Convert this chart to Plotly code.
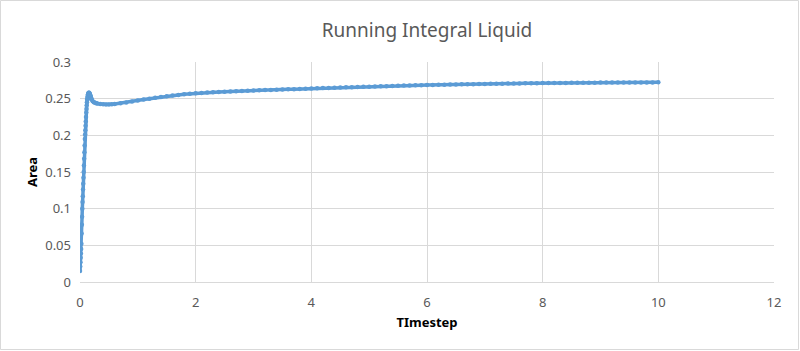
import plotly.graph_objects as go

# Timestep values (x) and running integral area (y)
t_rise = [0, .004, .008, .012, .016, .020, .024, .028, .032, .036, .040, .044, .048, .052, .056,
          .060, .064, .068, .072, .076, .080, .084, .088, .092, .096, .100, .104, .108, .112, .116,
          .120, .124, .128, .132, .136, .140, .144, .148, .152, .156, .160, .164, .168, .172, .176,
          .180, .184, .188, .192, .196, .200]
a_rise = [0.015, 0.021, 0.027, 0.033, 0.039, 0.045, 0.052, 0.066, 0.078, 0.089, 0.100, 0.109, 0.117,
          0.126, 0.134, 0.142, 0.150, 0.159, 0.168, 0.177, 0.186, 0.195, 0.201, 0.207, 0.213, 0.219,
          0.225, 0.231, 0.236, 0.241, 0.245, 0.249, 0.251, 0.253, 0.255, 0.256, 0.257, 0.2575, 0.258,
          0.258, 0.2578, 0.2572, 0.2565, 0.2556, 0.2546, 0.2536, 0.2526, 0.2516, 0.2506, 0.2497, 0.2489]

t_dip = [0.22, 0.24, 0.26, 0.28, 0.30, 0.35, 0.40, 0.45, 0.50, 0.55, 0.60, 0.70, 0.80, 0.90, 1.0]
a_dip = [0.2465, 0.2452, 0.2444, 0.2438, 0.2434, 0.2428, 0.2424, 0.2422, 0.2421, 0.2423, 0.2427,
         0.2437, 0.2449, 0.2461, 0.2475]

t_tail = [1.1, 1.2, 1.3, 1.4, 1.5, 1.6, 1.7, 1.8, 1.9, 2.0,
          2.1, 2.2, 2.3, 2.4, 2.5, 2.6, 2.7, 2.8, 2.9, 3.0,
          3.1, 3.2, 3.3, 3.4, 3.5, 3.6, 3.7, 3.8, 3.9, 4.0,
          4.1, 4.2, 4.3, 4.4, 4.5, 4.6, 4.7, 4.8, 4.9, 5.0,
          5.1, 5.2, 5.3, 5.4, 5.5, 5.6, 5.7, 5.8, 5.9, 6.0,
          6.1, 6.2, 6.3, 6.4, 6.5, 6.6, 6.7, 6.8, 6.9, 7.0,
          7.1, 7.2, 7.3, 7.4, 7.5, 7.6, 7.7, 7.8, 7.9, 8.0,
          8.1, 8.2, 8.3, 8.4, 8.5, 8.6, 8.7, 8.8, 8.9, 9.0,
          9.1, 9.2, 9.3, 9.4, 9.5, 9.6, 9.7, 9.8, 9.9, 10.0]
a_tail = [.2488, .2500, .2512, .2523, .2533, .2542, .2551, .2559, .2566, .2573,
          .2578, .2583, .2587, .2591, .2595, .2599, .2602, .2605, .2608, .2611,
          .2614, .2617, .2619, .2622, .2624, .2627, .2630, .2633, .2636, .2639,
          .2641, .2644, .2646, .2649, .2651, .2654, .2656, .2659, .2661, .2664,
          .2666, .2668, .2671, .2673, .2676, .2678, .2680, .2682, .2684, .2686,
          .2688, .2689, .2690, .2692, .2693, .2695, .2696, .2698, .2700, .2701,
          .2702, .2703, .2705, .2706, .2707, .2708, .2709, .2710, .2711, .2713,
          .2713, .2714, .2714, .2715, .2716, .2717, .2717, .2718, .2718, .2719,
          .2719, .2720, .2720, .2721, .2721, .2721, .2722, .2722, .2722, .2723]

timestep = t_rise + t_dip + t_tail
area = a_rise + a_dip + a_tail

x_ticks = [0, 2, 4, 6, 8, 10, 12]
y_ticks = [0, 0.05, 0.1, 0.15, 0.2, 0.25, 0.3]
y_tick_labels = ["0", "0.05", "0.1", "0.15", "0.2", "0.25", "0.3"]

W, H = 800, 351
ML, MR, MT, MB = 80, 26, 62, 69

fig = go.Figure()
fig.add_trace(go.Scatter(
    x=timestep, y=area, mode="lines+markers",
    line=dict(color="#5b9bd5", width=3.5),
    marker=dict(color="#5b9bd5", size=4.5),
    showlegend=False, hoverinfo="x+y",
))

gridc = "#d9d9d9"
pw = W - ML - MR
ph = H - MT - MB
fig.add_shape(type="rect", xref="paper", yref="paper",
              x0=-(ML - 0.5) / pw, x1=1 + (MR - 1.5) / pw,
              y0=-(MB - 1.5) / ph, y1=1 + (MT - 0.5) / ph,
              line=dict(color="#d9d9d9", width=1), layer="below")

fig.update_layout(
    width=W, height=H,
    margin=dict(l=ML, r=MR, t=MT, b=MB),
    paper_bgcolor="white", plot_bgcolor="white",
    font=dict(family="Noto Sans, sans-serif", color="#595959", size=12),
    title=dict(text="Running Integral Liquid", x=0.5, xref="paper", xanchor="center",
               y=1 - 30 / H, yanchor="middle",
               font=dict(size=19, color="#595959")),
    xaxis=dict(range=[0, 12], tickvals=x_ticks, ticktext=[str(v) for v in x_ticks],
               showgrid=True, gridcolor=gridc, gridwidth=1,
               showline=True, linecolor=gridc, zeroline=False, ticks="",
               ticklabelstandoff=8,
               tickfont=dict(size=13, color="#595959"),
               title=dict(text="<b>TImestep</b>", standoff=8,
                          font=dict(size=13, color="#000000"))),
    yaxis=dict(range=[0, 0.3], tickvals=y_ticks, ticktext=y_tick_labels,
               showgrid=True, gridcolor=gridc, gridwidth=1,
               showline=False, zeroline=False, ticks="",
               ticklabelstandoff=8,
               tickfont=dict(size=13, color="#595959"),
               title=dict(text="<b>Area</b>", standoff=4,
                          font=dict(size=13, color="#000000"))),
)

fig.write_html("out.html")
